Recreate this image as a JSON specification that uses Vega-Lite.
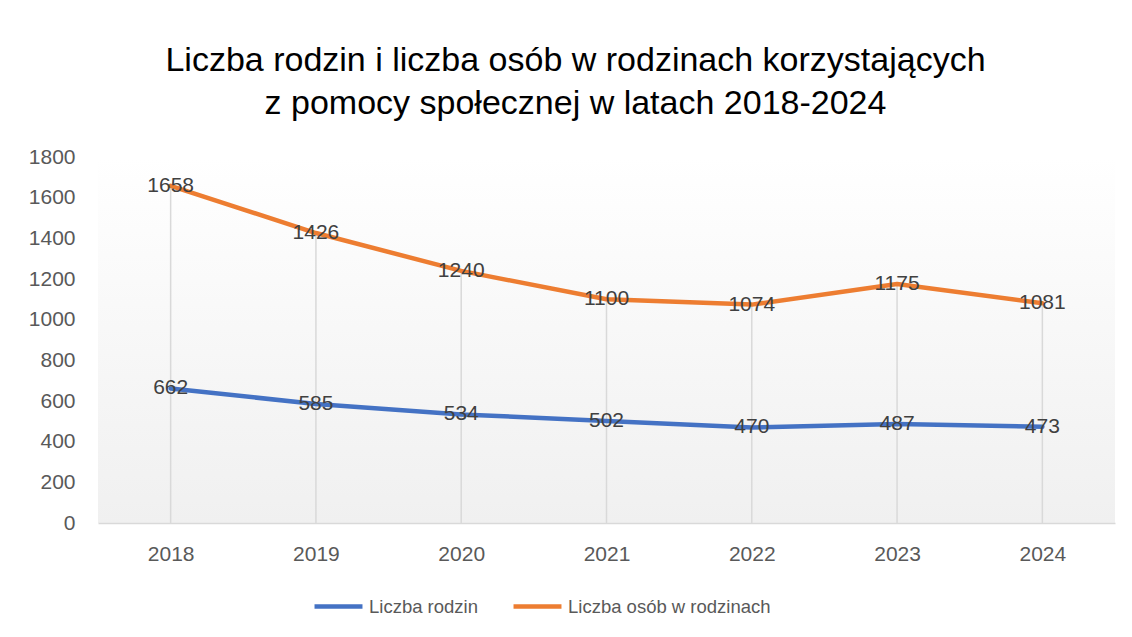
{
  "$schema": "https://vega.github.io/schema/vega-lite/v6.json",
  "width": 1017,
  "height": 366,
  "autosize": {"type": "none"},
  "padding": {"left": 98, "top": 157, "right": 17, "bottom": 114},
  "background": "white",
  "title": {
    "text": ["Liczba rodzin i liczba osób w rodzinach korzystających", "z pomocy społecznej w latach 2018-2024"],
    "font": "Liberation Sans",
    "fontSize": 34,
    "fontWeight": "normal",
    "color": "#000000",
    "lineHeight": 43,
    "anchor": "middle",
    "dx": -31,
    "offset": 25
  },
  "config": {
    "font": "Liberation Sans",
    "view": {
      "stroke": null,
      "fill": {
        "gradient": "linear",
        "x1": 0, "y1": 0, "x2": 0, "y2": 1,
        "stops": [
          {"offset": 0, "color": "#ffffff"},
          {"offset": 1, "color": "#f0f0f0"}
        ]
      }
    }
  },
  "data": {
    "values": [
      {"year": "2018", "series": "Liczba rodzin", "value": 662},
      {"year": "2019", "series": "Liczba rodzin", "value": 585},
      {"year": "2020", "series": "Liczba rodzin", "value": 534},
      {"year": "2021", "series": "Liczba rodzin", "value": 502},
      {"year": "2022", "series": "Liczba rodzin", "value": 470},
      {"year": "2023", "series": "Liczba rodzin", "value": 487},
      {"year": "2024", "series": "Liczba rodzin", "value": 473},
      {"year": "2018", "series": "Liczba osób w rodzinach", "value": 1658},
      {"year": "2019", "series": "Liczba osób w rodzinach", "value": 1426},
      {"year": "2020", "series": "Liczba osób w rodzinach", "value": 1240},
      {"year": "2021", "series": "Liczba osób w rodzinach", "value": 1100},
      {"year": "2022", "series": "Liczba osób w rodzinach", "value": 1074},
      {"year": "2023", "series": "Liczba osób w rodzinach", "value": 1175},
      {"year": "2024", "series": "Liczba osób w rodzinach", "value": 1081}
    ]
  },
  "encoding": {
    "x": {
      "field": "year",
      "type": "ordinal",
      "title": null,
      "scale": {"type": "point", "padding": 0.5},
      "axis": {
        "labelAngle": 0,
        "labelFontSize": 21,
        "labelColor": "#595959",
        "labelPadding": 20,
        "ticks": false,
        "domainColor": "#d9d9d9",
        "domainWidth": 1.5,
        "grid": false
      }
    },
    "y": {
      "field": "value",
      "type": "quantitative",
      "title": null,
      "scale": {"domain": [0, 1800], "nice": false},
      "axis": {
        "values": [0, 200, 400, 600, 800, 1000, 1200, 1400, 1600, 1800],
        "format": "d",
        "labelFontSize": 21,
        "labelColor": "#595959",
        "labelPadding": 23,
        "ticks": false,
        "domain": false,
        "grid": false
      }
    }
  },
  "layer": [
    {
      "transform": [{"filter": "datum.series === 'Liczba osób w rodzinach'"}],
      "mark": {"type": "rule", "color": "#d9d9d9", "strokeWidth": 1.5},
      "encoding": {
        "y2": {"datum": 0}
      }
    },
    {
      "mark": {"type": "line", "strokeWidth": 4.5, "strokeCap": "round", "strokeJoin": "round"},
      "encoding": {
        "color": {
          "field": "series",
          "type": "nominal",
          "scale": {
            "domain": ["Liczba rodzin", "Liczba osób w rodzinach"],
            "range": ["#4472C4", "#ED7D31"]
          },
          "legend": {
            "title": null,
            "orient": "none",
            "legendX": 214,
            "legendY": 423,
            "direction": "horizontal",
            "symbolType": "stroke",
            "symbolStrokeWidth": 4.5,
            "symbolSize": 2300,
            "labelFontSize": 18.5,
            "labelColor": "#595959",
            "labelOffset": 4,
            "labelLimit": 500,
            "columnPadding": 25
          }
        }
      }
    },
    {
      "mark": {"type": "text", "fontSize": 21, "color": "#404040", "baseline": "middle", "align": "center"},
      "encoding": {
        "text": {"field": "value", "type": "quantitative"}
      }
    }
  ]
}
